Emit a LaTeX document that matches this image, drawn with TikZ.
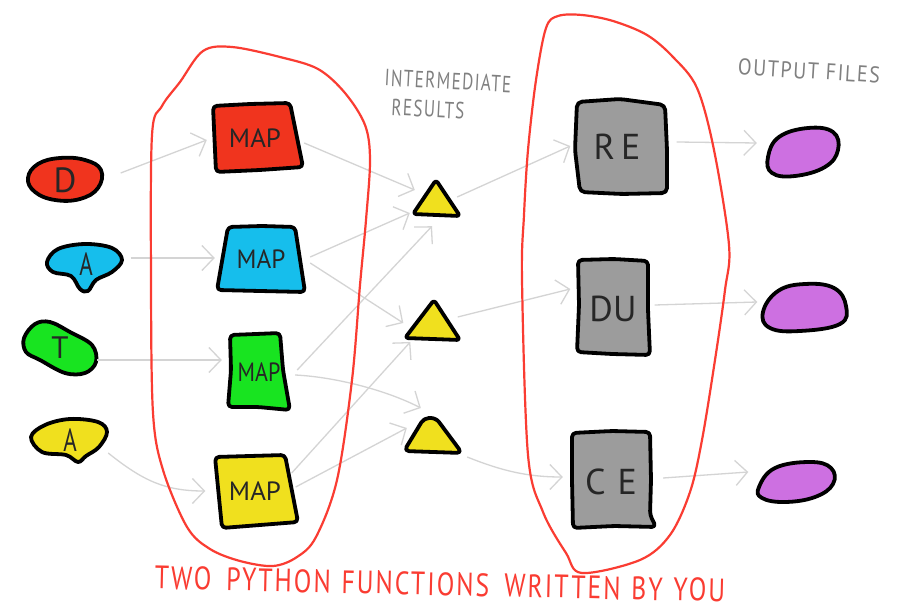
\documentclass[tikz,border=0pt]{standalone}
\usepackage{fontspec}
\setmainfont{PT Sans}
\newfontfamily\hand{PT Sans}
\newfontfamily\handwide[LetterSpace=8]{PT Sans}
\usetikzlibrary{arrows.meta}
\definecolor{cRed}{RGB}{240,52,30}
\definecolor{cBlue}{RGB}{22,190,236}
\definecolor{cGreen}{RGB}{24,228,32}
\definecolor{cYellow}{RGB}{240,224,30}
\definecolor{cGray}{RGB}{156,156,156}
\definecolor{cPurple}{RGB}{205,112,225}
\definecolor{loopred}{RGB}{250,60,50}
\definecolor{connGray}{RGB}{212,212,212}
\definecolor{noteGray}{RGB}{128,128,128}
\tikzset{
  conn/.style={draw=connGray, line width=1.3pt,
    -{Straight Barb[length=12pt,width=25pt]}},
  outline/.style={draw=black, line width=3.8pt, line join=round},
  holder/.style={inner sep=0pt, text=black!85, font=\hand},
  grouploop/.style={draw=loopred, line width=2.2pt, line join=round},
  note/.style={inner sep=0pt, text=noteGray},
}
\begin{document}
\begin{tikzpicture}[x=1pt,y=-1pt]
\useasboundingbox[fill=white] (0,0) rectangle (902,609);

% ---------- input blobs ----------
\draw[outline,fill=cRed] plot[smooth cycle,tension=0.7] coordinates
  {(28,178) (38,164) (60,158) (85,160) (101,170) (98,188) (80,199) (55,200) (35,192)};
\draw[outline,fill=cBlue] plot[smooth cycle,tension=0.6] coordinates
  {(47,262) (58,249) (85,244) (112,248) (122,260) (112,272) (96,280) (88,291) (80,289) (71,276) (53,272)};
\draw[outline,fill=cGreen] plot[smooth cycle,tension=0.6] coordinates
  {(24,338) (35,324) (50,322) (70,332) (92,345) (96,362) (85,373) (65,373) (40,360) (26,352)};
\draw[outline,fill=cYellow] plot[smooth cycle,tension=0.6] coordinates
  {(31,437) (45,425) (70,419) (98,422) (107,432) (99,447) (86,456) (78,462) (66,455) (42,452)};

\node[holder,minimum width=75pt,minimum height=42pt] (dR) at (65,180) {\fontsize{35}{35}\selectfont D};
\node[holder,minimum width=77pt,minimum height=38pt] (aB) at (86,264) {\fontsize{32}{32}\selectfont\scalebox{0.72}[1]{A}};
\node[holder,minimum width=74pt,minimum height=53pt] (tG) at (60,348) {\fontsize{31}{31}\selectfont T};
\node[holder,minimum width=78pt,minimum height=45pt] (aY) at (70,440) {\fontsize{32}{32}\selectfont\scalebox{0.72}[1]{A}};

% ---------- map boxes ----------
\draw[outline,fill=cRed,rounded corners=4pt]
  (213,106) -- (250,104) -- (290,103) -- (303,167) -- (260,170) -- (216,172) -- cycle;
\draw[outline,fill=cBlue,rounded corners=4pt]
  (228,227) -- (262,226) -- (295,227) -- (305,292) -- (260,291) -- (217,290) -- cycle;
\draw[outline,fill=cGreen,rounded corners=4pt]
  (230,335) -- (256,334) -- (280,333) -- (283,370) -- (290,410) -- (258,407) -- (228,407) -- (231,370) -- cycle;
\draw[outline,fill=cYellow,rounded corners=4pt]
  (215,457) -- (250,456) -- (285,455) -- (298,522) -- (260,525) -- (222,528) -- cycle;

\node[holder,minimum width=90pt,minimum height=68pt] (mR) at (255,138) {\fontsize{24}{24}\selectfont\scalebox{1.12}[1.1]{MAP}};
\node[holder,minimum width=88pt,minimum height=66pt] (mB) at (261,259) {\fontsize{24}{24}\selectfont\scalebox{1.05}[1.1]{MAP}};
\node[holder,minimum width=62pt,minimum height=77pt] (mG) at (259,372) {\fontsize{24}{24}\selectfont\scalebox{0.92}[1.1]{MAP}};
\node[holder,minimum width=85pt,minimum height=73pt] (mY) at (255,491) {\fontsize{24}{24}\selectfont\scalebox{1.12}[1.1]{MAP}};

% ---------- intermediate results ----------
\draw[outline,fill=cYellow,rounded corners=3pt] (436,180) -- (460,216) -- (413,214) -- cycle;
\draw[outline,fill=cYellow,rounded corners=3pt] (434,300) -- (460,340) -- (405,338) -- cycle;
\draw[outline,fill=cYellow,rounded corners=5pt] (424,418) -- (436,418) -- (462,453) -- (404,451) -- cycle;

\node[holder,minimum width=48pt,minimum height=36pt] (t1) at (436,200) {};
\node[holder,minimum width=55pt,minimum height=40pt] (t2) at (433,322) {};
\node[holder,minimum width=58pt,minimum height=36pt] (t3) at (433,436) {};

% ---------- reduce boxes ----------
\draw[outline,fill=cGray,rounded corners=5pt]
  (577,102) -- (620,99) -- (665,105) -- (667,150) -- (667,193) -- (622,194) -- (580,192) -- (575,150) -- cycle;
\draw[outline,fill=cGray,rounded corners=4pt]
  (578,260) -- (614,259) -- (648,261) -- (648,310) -- (650,355) -- (612,354) -- (577,352) -- (579,305) -- cycle;
\draw[outline,fill=cGray,rounded corners=4pt]
  (572,433) -- (612,431) -- (650,432) -- (651,480) -- (650,515) -- (656,527) -- (614,526) -- (573,528) -- (572,480) -- cycle;

\node[holder,minimum width=93pt,minimum height=93pt] (gRE) at (621,147) {\fontsize{36}{36}\selectfont\hspace{-8pt}R\,E};
\node[holder,minimum width=73pt,minimum height=97pt] (gDU) at (613,309) {\fontsize{36}{36}\selectfont DU};
\node[holder,minimum width=84pt,minimum height=97pt] (gCE) at (613,482) {\fontsize{36}{36}\selectfont\hspace{-4pt}C\,\,E};

% ---------- output files ----------
\draw[outline,fill=cPurple] plot[smooth cycle,tension=0.7] coordinates
  {(768,157) (779,137) (808,128) (833,132) (838,150) (825,167) (795,176) (772,173)};
\draw[outline,fill=cPurple] plot[smooth cycle,tension=0.7] coordinates
  {(763,312) (778,291) (805,284) (834,288) (846,306) (840,324) (800,331) (770,328)};
\draw[outline,fill=cPurple] plot[smooth cycle,tension=0.7] coordinates
  {(759,487) (775,468) (810,462) (831,468) (833,484) (815,497) (785,502) (762,498)};

\node[holder,minimum width=72pt,minimum height=50pt] (o1) at (802,152) {};
\node[holder,minimum width=85pt,minimum height=49pt] (o2) at (804,307) {};
\node[holder,minimum width=77pt,minimum height=41pt] (o3) at (796,482) {};

% ---------- connectors ----------
\draw[conn] ([shift={(18,-7)}]dR.east) -- ([shift={(-3,2)}]mR.west);
\draw[conn] ([shift={(6,-6)}]aB.east) -- ([shift={(-2,-1)}]mB.west);
\draw[conn] ([shift={(0,12)}]tG.east) -- ([shift={(-6,-12)}]mG.west);
\draw[conn] ([shift={(-1,13)}]aY.east) .. controls +(35,28) and +(-40,0) .. ([shift={(-7,0)}]mY.west);

\draw[conn] ([shift={(4,5)}]mR.east) -- ([shift={(3,-10)}]t1.west);
\draw[conn] ([shift={(5,-2)}]mB.east) -- ([shift={(-2,13)}]t1.west);
\draw[conn] ([shift={(5,4)}]mB.east) -- ([shift={(-2,1)}]t2.west);
\draw[conn] ([shift={(7,-2)}]mG.east) -- ([shift={(-4,8)}]t1.south);
\draw[conn] ([shift={(5,3)}]mG.east) .. controls +(40,2) and +(-35,-18) .. ([shift={(17,-28)}]t3.west);
\draw[conn] ([shift={(-6,-18)}]mY.east) -- ([shift={(5,20)}]t2.west);
\draw[conn] ([shift={(-2,-4)}]mY.east) -- ([shift={(3,-8)}]t3.west);

\draw[conn] ([shift={(-3,-3)}]t1.east) -- ([shift={(-4,-1)}]gRE.west);
\draw[conn] ([shift={(-3,-5)}]t2.east) -- ([shift={(-6,-20)}]gDU.west);
\draw[conn] ([shift={(5,21)}]t3.east) .. controls +(35,14) and +(-35,0) .. ([shift={(-8,-5)}]gCE.west);

\draw[conn] ([shift={(9,-5)}]gRE.east) -- ([shift={(-9,-9)}]o1.west);
\draw[conn] ([shift={(5,-4)}]gDU.east) -- ([shift={(-4,-5)}]o2.west);
\draw[conn] ([shift={(8,-4)}]gCE.east) -- ([shift={(-9,-10)}]o3.west);

% ---------- the two hand-written functions ----------
\draw[grouploop] plot[smooth cycle,tension=0.55] coordinates
  {(152,135) (162,106) (180,82) (203,51) (232,47) (280,57) (318,69) (345,93) (365,125) (370,160)
   (366,220) (360,285) (352,380) (337,480) (316,537) (297,557) (273,566) (240,561) (210,549)
   (187,527) (163,470) (153,413) (151,280)};
\draw[grouploop] plot[smooth cycle,tension=0.55] coordinates
  {(522,280) (524,215) (528,150) (536,80) (546,28) (558,16) (582,15) (613,21) (647,35) (673,57)
   (697,88) (714,150) (729,245) (725,290) (715,360) (702,440) (690,492) (670,535) (640,560)
   (582,573) (566,553) (543,512) (528,455)};

% ---------- labels ----------
\node[note,rotate=-3,font=\handwide\fontsize{18}{18}\selectfont] (lblInter) at (448,81) {\scalebox{0.95}[1.3]{INTERMEDIATE}};
\node[note,rotate=-3,font=\handwide\fontsize{18}{18}\selectfont] (lblRes) at (428,109) {\scalebox{0.95}[1.3]{RESULTS}};
\node[note,rotate=-3.5,font=\handwide\fontsize{19}{19}\selectfont] (lblOut) at (809,71) {\scalebox{1.05}[1.2]{OUTPUT FILES}};
\node[inner sep=0pt,text=loopred,rotate=-1.3,font=\handwide\fontsize{24}{24}\selectfont] (lblFun) at (440,584)
  {\scalebox{1.07}[1.35]{TWO\hspace{14pt}PYTHON\hspace{10pt}FUNCTIONS\hspace{14pt}WRITTEN\hspace{10pt}BY\hspace{10pt}YOU}};
\end{tikzpicture}
\end{document}
